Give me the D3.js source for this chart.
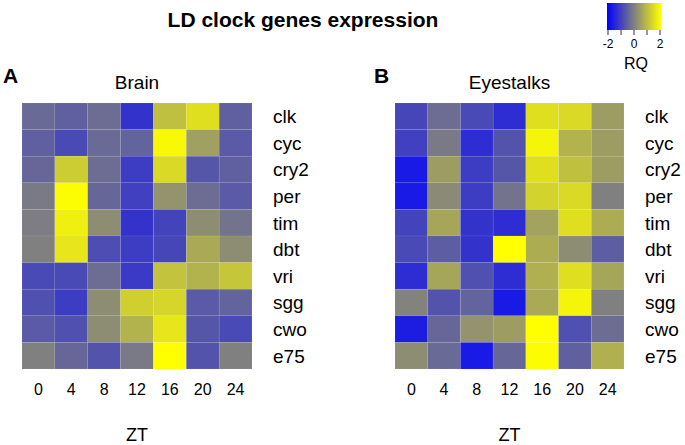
<!DOCTYPE html>
<html>
<head>
<meta charset="utf-8">
<script src="https://cdn.jsdelivr.net/npm/d3@7"></script>
<style>
  body { margin: 0; background: #fff; }
  text { font-family: "Liberation Sans", Arial, sans-serif; fill: #000; }
</style>
</head>
<body>
<svg id="chart"></svg>
<script>
  'use strict';

  var genes = ['clk', 'cyc', 'cry2', 'per', 'tim', 'dbt', 'vri', 'sgg', 'cwo', 'e75'];
  var zt = [0, 4, 8, 12, 16, 20, 24];

  /* RQ values, one row per gene, one column per ZT */
  var brainValues = [
    [-0.35, -0.5, -0.3, -1.2, 1.0, 1.5, -0.5],
    [-0.5, -0.85, -0.35, -0.45, 1.9, 0.5, -0.6],
    [-0.4, 1.2, -0.3, -1.05, 1.4, -0.65, -0.5],
    [-0.1, 1.95, -0.4, -1.0, 0.3, -0.3, -0.6],
    [-0.05, 1.75, 0.2, -1.2, -0.95, 0.2, -0.2],
    [0.0, 1.6, -0.8, -1.05, -0.9, 0.65, 0.2],
    [-0.85, -0.85, -0.3, -1.1, 1.05, 0.8, 1.1],
    [-0.75, -1.05, 0.2, 1.25, 1.35, -0.6, -0.45],
    [-0.6, -0.75, 0.2, 0.8, 1.6, -0.65, -0.85],
    [0.0, -0.4, -0.7, -0.1, 2.0, -0.7, 0.0]
  ];

  var eyestalkValues = [
    [-0.9, -0.3, -0.85, -1.3, 1.5, 1.4, 0.45],
    [-1.0, -0.1, -1.3, -0.7, 1.85, 0.8, 0.45],
    [-1.6, 0.45, -1.05, -0.65, 1.5, 1.0, 0.45],
    [-1.6, 0.15, -1.05, -0.2, 1.3, 1.4, 0.0],
    [-0.95, 0.6, -1.2, -1.3, 0.55, 1.5, 0.7],
    [-0.85, -0.55, -1.2, 2.0, 0.7, 0.2, -0.55],
    [-1.3, 0.6, -0.75, -1.3, 0.75, 1.5, 0.6],
    [0.05, -0.7, -0.45, -1.6, 0.65, 1.85, 0.0],
    [-1.55, -0.4, 0.3, 0.45, 2.0, -0.75, -0.3],
    [0.2, -0.35, -1.6, -0.4, 1.95, -0.5, 0.75]
  ];

  var legendTicks = [-2, -1, 0, 1, 2];
  var legendLabels = [-2, 0, 2];

  var width = 685, height = 445;
  var svg = d3.select('#chart').attr('width', width).attr('height', height);

  var color = d3.scaleLinear()
    .domain([-2, 0, 2])
    .range(['#0000ff', '#808080', '#ffff00'])
    .clamp(true);

  /* Title */
  svg.append('text')
    .attr('x', 303).attr('y', 27)
    .attr('text-anchor', 'middle')
    .style('font-size', '21px').style('font-weight', 'bold')
    .text('LD clock genes expression');

  function drawPanel(opts) {
    var x = d3.scaleBand().domain(zt).range([opts.left, opts.right]);
    var y = d3.scaleBand().domain(genes).range([103, 369]);
    var cx = (opts.left + opts.right) / 2;

    svg.append('text')
      .attr('x', opts.letterX).attr('y', 83)
      .style('font-size', '21px').style('font-weight', 'bold')
      .text(opts.letter);

    svg.append('text')
      .attr('x', cx).attr('y', 89)
      .attr('text-anchor', 'middle')
      .style('font-size', '19px')
      .text(opts.title);

    var cells = [];
    opts.values.forEach(function(row, i) {
      row.forEach(function(v, j) {
        cells.push({ gene: genes[i], zt: zt[j], v: v });
      });
    });

    svg.append('g')
      .selectAll('rect')
      .data(cells)
      .enter().append('rect')
        .attr('x', function(d) { return x(d.zt); })
        .attr('y', function(d) { return y(d.gene); })
        .attr('width', x.bandwidth())
        .attr('height', y.bandwidth())
        .attr('fill', function(d) { return color(d.v); })
        .attr('stroke', 'rgba(255,255,255,0.12)')
        .attr('stroke-width', 0.6);

    /* gene labels on the right */
    svg.append('g')
      .selectAll('text')
      .data(genes)
      .enter().append('text')
        .attr('x', opts.right + 21)
        .attr('y', function(d) { return y(d) + y.bandwidth() / 2; })
        .attr('dy', '0.36em')
        .style('font-size', '19px')
        .text(function(d) { return d; });

    /* ZT tick labels */
    svg.append('g')
      .selectAll('text')
      .data(zt)
      .enter().append('text')
        .attr('x', function(d) { return x(d) + x.bandwidth() / 2; })
        .attr('y', 395)
        .attr('text-anchor', 'middle')
        .style('font-size', '16px')
        .text(function(d) { return d; });

    svg.append('text')
      .attr('x', cx).attr('y', 441)
      .attr('text-anchor', 'middle')
      .style('font-size', '18px')
      .text('ZT');
  }

  drawPanel({ left: 22, right: 252, values: brainValues, title: 'Brain', letter: 'A', letterX: 3 });
  drawPanel({ left: 395, right: 624, values: eyestalkValues, title: 'Eyestalks', letter: 'B', letterX: 374 });

  /* Colour key */
  var defs = svg.append('defs');
  var grad = defs.append('linearGradient').attr('id', 'rq-grad')
    .attr('x1', '0%').attr('x2', '100%').attr('y1', '0%').attr('y2', '0%');
  d3.range(0, 1.0001, 0.1).forEach(function(t) {
    grad.append('stop')
      .attr('offset', (t * 100) + '%')
      .attr('stop-color', color(-2 + 4 * t));
  });

  var lx = d3.scaleLinear().domain([-2, 2]).range([608, 660]);

  svg.append('rect')
    .attr('x', 607).attr('y', 3)
    .attr('width', 54).attr('height', 27)
    .attr('fill', 'url(#rq-grad)');

  svg.append('g')
    .selectAll('line')
    .data(legendTicks)
    .enter().append('line')
      .attr('x1', function(d) { return lx(d); })
      .attr('x2', function(d) { return lx(d); })
      .attr('y1', 30).attr('y2', 35)
      .attr('stroke', '#333').attr('stroke-width', 1);

  svg.append('g')
    .selectAll('text')
    .data(legendLabels)
    .enter().append('text')
      .attr('x', function(d) { return lx(d); })
      .attr('y', 48)
      .attr('text-anchor', 'middle')
      .style('font-size', '12px')
      .text(function(d) { return d; });

  svg.append('text')
    .attr('x', 636).attr('y', 69)
    .attr('text-anchor', 'middle')
    .style('font-size', '16px')
    .text('RQ');
</script>
</body>
</html>
